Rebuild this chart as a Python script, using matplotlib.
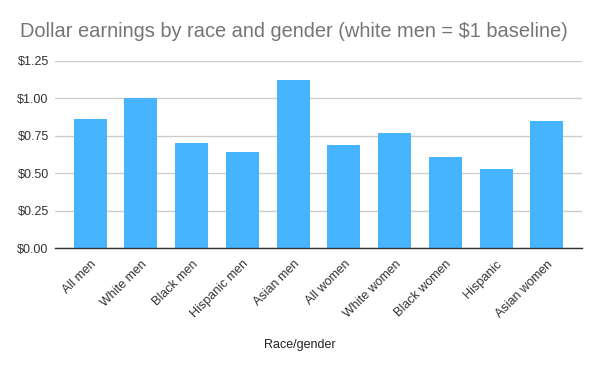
import matplotlib.pyplot as plt

plt.rcParams.update({
    "font.family": ["Liberation Sans", "DejaVu Sans"],
    "font.size": 9,
})

# ---- Data ----
categories = ["All men", "White men", "Black men", "Hispanic men", "Asian men",
              "All women", "White women", "Black women", "Hispanic", "Asian women"]
earnings = [0.86, 1.00, 0.70, 0.64, 1.12, 0.69, 0.77, 0.61, 0.53, 0.85]
y_ticks = [0.0, 0.25, 0.5, 0.75, 1.0, 1.25]

BAR_COLOR = "#46b4ff"
GRID_COLOR = "#cccccc"
TEXT_COLOR = "#333333"

fig = plt.figure(figsize=(6.0, 3.71), dpi=100)
ax = fig.add_axes([55 / 600, 1 - 248.3 / 371, (582 - 55) / 600, (248.3 - 61) / 371])

x = range(len(categories))
ax.bar(x, earnings, width=0.65, color=BAR_COLOR, zorder=2)

ax.set_ylim(0, 1.25)
ax.set_xlim(-0.69, len(categories) - 1 + 0.69)
ax.set_yticks(y_ticks)
ax.set_yticklabels([f"${v:.2f}" for v in y_ticks], color=TEXT_COLOR)
ax.yaxis.grid(True, color=GRID_COLOR, linewidth=1.0, zorder=0)

ax.set_xticks(list(x))
ax.set_xticklabels(categories, rotation=45, ha="right", rotation_mode="anchor",
                   color=TEXT_COLOR)

for side in ("top", "right", "left"):
    ax.spines[side].set_visible(False)
ax.spines["bottom"].set_color("#333333")
ax.spines["bottom"].set_linewidth(1.0)
ax.tick_params(axis="both", length=0)
ax.tick_params(axis="x", pad=7)
ax.tick_params(axis="y", pad=4.5)

fig.text(20 / 600, 1 - 37 / 371, "Dollar earnings by race and gender (white men = $1 baseline)",
         fontsize=14.4, color="#757575", va="baseline", ha="left")
fig.text(0.5, 1 - 345 / 371, "Race/gender", fontsize=9, color="#222222",
         ha="center", va="center")

fig.savefig("out.png", dpi=100)
